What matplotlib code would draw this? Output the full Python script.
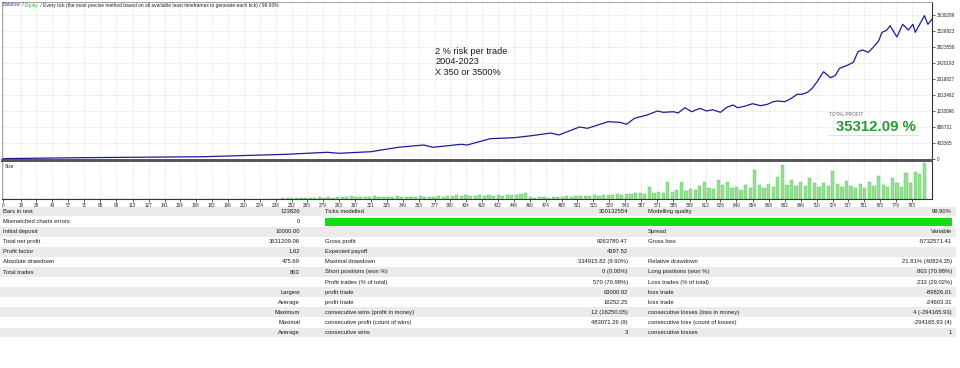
import matplotlib.pyplot as plt
from matplotlib.patches import Rectangle
import numpy as np

plt.rcParams['font.family'] = ['Liberation Sans', 'DejaVu Sans']

# balance curve (trade number, balance)
trade_idx = [0, 69, 175, 247, 283, 293, 321, 345, 367, 375,
             400, 405, 425, 446, 461, 478, 485, 503, 510, 528,
             538, 544, 551, 562, 571, 576, 585, 589, 595, 601,
             608, 614, 619, 626, 632, 637, 641, 647, 654, 661,
             667, 672, 676, 682, 687, 693, 697, 702, 706, 710,
             716, 722, 726, 730, 736, 742, 746, 750, 755, 759,
             764, 767, 771, 774, 780, 785, 790, 794, 796, 804,
             807, 811]
balance = [10000, 33000, 58000, 118000, 169000, 144000, 184000, 295000, 353000, 295000,
           371000, 353000, 512000, 537000, 587000, 655000, 605000, 807000, 774000, 940000,
           925000, 875000, 1026000, 1109000, 1210000, 1177000, 1192000, 1160000, 1293000, 1192000,
           1278000, 1210000, 1243000, 1177000, 1311000, 1361000, 1293000, 1329000, 1394000, 1344000,
           1379000, 1445000, 1462000, 1445000, 1513000, 1631000, 1631000, 1681000, 1782000, 1934000,
           2201000, 2050000, 2100000, 2287000, 2352000, 2438000, 2705000, 2748000, 2690000, 2806000,
           2975000, 3194000, 3244000, 3360000, 3076000, 3396000, 3252000, 3396000, 3194000, 3613000,
           3396000, 3541209]

# lot size, one value every 4 trades
size = [0.02, 0.02, 0.02, 0.02, 0.02, 0.02, 0.02, 0.02, 0.02, 0.02,
        0.03, 0.03, 0.03, 0.03, 0.04, 0.04, 0.04, 0.04, 0.05, 0.05,
        0.05, 0.06, 0.06, 0.06, 0.07, 0.07, 0.08, 0.08, 0.09, 0.09,
        0.1, 0.1, 0.1, 0.12, 0.12, 0.13, 0.13, 0.14, 0.15, 0.15,
        0.16, 0.17, 0.18, 0.19, 0.2, 0.2, 0.22, 0.23, 0.24, 0.25,
        0.26, 0.28, 0.3, 0.3, 0.32, 0.35, 0.36, 0.38, 0.4, 0.42,
        0.5, 0.6, 0.7, 0.9, 0.8, 1.0, 1.1, 1.3, 1.2, 1.6,
        1.5, 2.2, 1.4, 2.4, 1.6, 1.8, 2.6, 1.7, 2.2, 1.9,
        2.0, 2.8, 1.8, 2.4, 2.2, 2.0, 2.6, 2.1, 2.4, 2.0,
        2.3, 2.6, 2.1, 2.5, 2.2, 2.8, 2.4, 3.0, 2.6, 3.6,
        3.2, 4.2, 3.4, 2.8, 3.6, 3.0, 3.8, 3.2, 4.0, 3.4,
        3.8, 4.4, 3.6, 4.8, 5.6, 2.0, 1.4, 1.6, 1.8, 1.5,
        1.8, 2.2, 1.9, 2.6, 2.4, 3.0, 2.6, 3.4, 2.8, 3.8,
        3.2, 4.4, 3.6, 4.2, 5.0, 4.0, 5.2, 4.6, 5.8, 6.4,
        5.2, 12.0, 6.0, 7.2, 6.4, 16.8, 7.0, 8.6, 17.0, 8.2,
        10.4, 9.0, 12.6, 17.2, 11.4, 10.2, 19.0, 13.6, 17.4, 11.0,
        12.4, 9.4, 14.2, 10.6, 28.8, 13.6, 11.2, 15.0, 12.0, 22.0,
        34.0, 14.4, 19.0, 12.6, 16.8, 13.0, 21.4, 15.6, 12.2, 16.4,
        13.4, 28.4, 14.6, 11.8, 18.2, 12.6, 10.8, 15.2, 11.4, 16.6,
        13.2, 22.6, 14.0, 11.6, 21.0, 15.8, 12.4, 25.8, 16.0, 27.0,
        24.8, 36.2]

x_ticks = [0, 16, 29, 43, 57, 71, 85, 99, 113, 127, 141, 154, 168, 182, 196, 210,
           224, 238, 252, 265, 279, 293, 307, 321, 335, 349, 363, 377, 390, 404,
           418, 432, 446, 460, 474, 488, 501, 515, 529, 543, 557, 571, 585, 599,
           613, 626, 640, 654, 668, 682, 696, 710, 724, 737, 751, 765, 779, 793]
y_ticks = [0, 403365, 806731, 1210096, 1613462, 2016827, 2420193, 2823558, 3226923, 3630289]

# report table
labels1 = ['Bars in test', 'Mismatched charts errors', 'Initial deposit', 'Total net profit',
           'Profit factor', 'Absolute drawdown', 'Total trades', '', '', '', '', '', '']
values1 = ['123826', '0', '10000.00', '3531209.06', '1.62', '475.69', '803', '',
           'Largest', 'Average', 'Maximum', 'Maximal', 'Average']
labels2 = ['Ticks modelled', '', '', 'Gross profit', 'Expected payoff', 'Maximal drawdown',
           'Short positions (won %)', 'Profit trades (% of total)', 'profit trade', 'profit trade',
           'consecutive wins (profit in money)', 'consecutive profit (count of wins)', 'consecutive wins']
values2 = ['300132554', '', '', '9263780.47', '4397.52', '334915.82 (9.90%)', '0 (0.00%)',
           '570 (70.98%)', '63000.92', '16252.25', '12 (16250.05)', '483071.26 (9)', '3']
labels3 = ['Modelling quality', '', 'Spread', 'Gross loss', '', 'Relative drawdown',
           'Long positions (won %)', 'Loss trades (% of total)', 'loss trade', 'loss trade',
           'consecutive losses (loss in money)', 'consecutive loss (count of losses)', 'consecutive losses']
values3 = ['99.90%', '', 'Variable', '-5732571.41', '', '21.81% (40824.35)', '803 (70.98%)',
           '233 (29.02%)', '-89826.01', '-24603.31', '4 (-294165.93)', '-294165.93 (4)', '1']

header = [('Balance', '#3535b0'), (' / ', '#222222'), ('Equity', '#2fb02f'),
          (' / Every tick (the most precise method based on all available least timeframes '
           'to generate each tick) / 99.90%', '#222222')]

W, H = 960, 368
fig = plt.figure(figsize=(W / 100, H / 100), dpi=100)

def box(x0, y0, x1, y1):
    return [x0 / W, 1 - y1 / H, (x1 - x0) / W, (y1 - y0) / H]

grid_kw = dict(color='#c4c4c4', lw=0.5, ls=(0, (1, 2)))

# main balance panel
ax = fig.add_axes(box(2, 2, 932, 160))
ax.plot(trade_idx, balance, color='#1c1c9a', lw=0.9)
ax.set_xlim(-0.9, 810.6)
ax.set_ylim(-25210, 3957970)
ax.set_yticks(y_ticks)
ax.set_yticklabels([str(v) for v in y_ticks])
ax.set_xticks(x_ticks)
ax.tick_params(axis='x', length=0, labelbottom=False)
ax.yaxis.tick_right()
ax.tick_params(axis='y', length=2, width=0.5, labelsize=3.3, pad=1.5, colors='#222222')
ax.grid(True, **grid_kw)
for s in ['left', 'top']:
    ax.spines[s].set_color('#909090')
    ax.spines[s].set_linewidth(0.6)
ax.spines['right'].set_color('#333333')
ax.spines['right'].set_linewidth(0.8)
ax.spines['bottom'].set_color('#555555')
ax.spines['bottom'].set_linewidth(1.4)

# size panel
ax2 = fig.add_axes(box(2, 161, 932, 199))
size_idx = np.arange(len(size)) * 4
ax2.bar(size_idx, size, width=2.8, color='#95e295', edgecolor='#45bb45', lw=0.25)
ax2.set_xlim(-0.9, 810.6)
ax2.set_ylim(0, 38)
ax2.set_yticks([])
ax2.set_xticks(x_ticks)
ax2.set_xticklabels([str(v) for v in x_ticks])
ax2.tick_params(axis='x', length=2, width=0.5, labelsize=3.3, pad=1, colors='#222222')
ax2.grid(True, axis='x', **grid_kw)
ax2.spines['top'].set_color('#555555')
ax2.spines['top'].set_linewidth(1.4)
ax2.spines['left'].set_color('#909090')
ax2.spines['left'].set_linewidth(0.6)
ax2.spines['right'].set_color('#333333')
ax2.spines['right'].set_linewidth(0.8)
ax2.spines['bottom'].set_color('#333333')
ax2.spines['bottom'].set_linewidth(0.8)
ax2.text(0.003, 0.93, 'Size', transform=ax2.transAxes, fontsize=3.4, va='top', color='#222222')

# overlay for texts and table, pixel coords
ov = fig.add_axes([0, 0, 1, 1], zorder=5)
ov.set_xlim(0, W)
ov.set_ylim(H, 0)
ov.axis('off')
ov.patch.set_alpha(0)

# header: pieces placed one after another
renderer = fig.canvas.get_renderer()
hx = 3
for txt, col in header:
    t = ov.text(hx, 5, txt, color=col, fontsize=3.5, va='center')
    hx += t.get_window_extent(renderer).width

ov.text(435, 62, '2 % risk per trade\n2004-2023\nX 350 or 3500%', fontsize=6.6,
        color='#1a1a1a', va='center', linespacing=1.25)

ov.text(829, 114, 'TOTAL PROFIT', fontsize=3.5, color='#666666', va='center')
ov.text(836, 127, '35312.09 %', fontsize=10.8, fontweight='bold', color='#2b9a33', va='center')
ov.plot([828, 919], [134.5, 134.5], color='#dcdcdc', lw=0.6)

# table
y0, pitch = 211.7, 10.05
fs = 4.2
for i in range(len(labels1)):
    yc = y0 + i * pitch
    if i % 2 == 0:
        ov.add_patch(Rectangle((0, yc - 4.8), 956, 9.6, color='#ebebeb', lw=0))
    ov.text(3, yc, labels1[i], fontsize=fs, va='center', ha='left', color='#1a1a1a')
    ov.text(300, yc, values1[i], fontsize=fs, va='center', ha='right', color='#1a1a1a')
    ov.text(325, yc, labels2[i], fontsize=fs, va='center', ha='left', color='#1a1a1a')
    ov.text(628, yc, values2[i], fontsize=fs, va='center', ha='right', color='#1a1a1a')
    ov.text(648, yc, labels3[i], fontsize=fs, va='center', ha='left', color='#1a1a1a')
    ov.text(952, yc, values3[i], fontsize=fs, va='center', ha='right', color='#1a1a1a')

# modelling quality bar
ov.add_patch(Rectangle((325, 217.6), 627, 8.2, color='#0fe00f', lw=0))

fig.savefig('out.png', dpi=100)
